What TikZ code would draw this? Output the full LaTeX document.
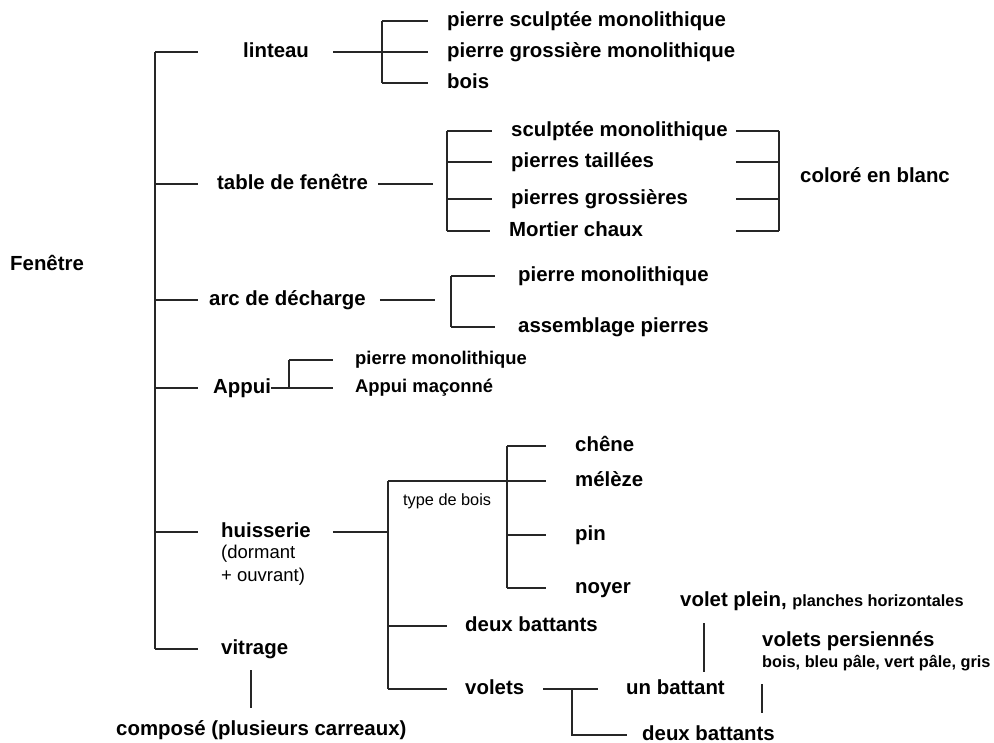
\documentclass[tikz,border=0pt]{standalone}
\usepackage{fontspec}
\setmainfont{Liberation Sans}
\usetikzlibrary{positioning}

\begin{document}
\begin{tikzpicture}[
  x=1pt, y=-1pt,
  lbl/.style={anchor=west, inner sep=0pt, text height=14.5pt, text depth=4pt,
    font=\fontsize{20.4}{24}\selectfont\bfseries},
  lblsm/.style={lbl, text height=13pt, text depth=3.6pt,
    font=\fontsize{18.4}{22}\selectfont\bfseries},
  lblxs/.style={lbl, text height=11.6pt, text depth=3.2pt,
    font=\fontsize{16.3}{19}\selectfont\bfseries},
  plain/.style={anchor=west, inner sep=0pt, align=left,
    font=\fontsize{18.5}{23}\selectfont},
  br/.style={line width=1.8pt, draw=black!85}
]
\useasboundingbox (0,0) rectangle (994,743);

% racine et premier niveau
\node[lbl] (fen)  at (10,265)  {Fenêtre};
\node[lbl] (lint) at (243,52)  {linteau};
\node[lbl] (tab)  at (217,184) {table de fenêtre};
\node[lbl] (arc)  at (209,300) {arc de décharge};
\node[lbl] (app)  at (213,388) {Appui};
\node[lbl] (hui)  at (221,532) {huisserie};
\node[plain, below=3pt of hui.south west, anchor=north west] (dorm) {(dormant\\+ ouvrant)};
\node[lbl] (vit)  at (221,649) {vitrage};
\node[lbl] (comp) at (116,730) {composé (plusieurs carreaux)};

\coordinate (trunk) at (155,0);
\draw[br] (trunk |- lint) -- (trunk |- vit);
\draw[br, shorten >=45pt] (trunk |- lint) -- (lint);
\draw[br, shorten >=19pt] (trunk |- tab) -- (tab);
\draw[br, shorten >=11pt] (trunk |- arc) -- (arc);
\draw[br, shorten >=15pt] (trunk |- app) -- (app);
\draw[br, shorten >=23pt] (trunk |- hui) -- (hui);
\draw[br, shorten >=23pt] (trunk |- vit) -- (vit);
\coordinate (g1) at (251,670);
\coordinate (g2) at (251,708);
\draw[br] (g1) -- (g2);

% linteau
\node[lbl] (ls) at (447,21) {pierre sculptée monolithique};
\node[lbl] (lg) at (447,52) {pierre grossière monolithique};
\node[lbl] (lb) at (447,83) {bois};
\coordinate (lj) at (382,0);
\draw[br, shorten <=24pt, shorten >=19pt] (lint) -- (lg);
\draw[br] (lj |- ls) -- (lj |- lb);
\foreach \n in {ls,lb} \draw[br, shorten >=19pt] (lj |- \n) -- (\n);

% table de fenetre
\node[lbl] (ts) at (511,131) {sculptée monolithique};
\node[lbl] (tt) at (511,162) {pierres taillées};
\node[lbl] (tg) at (511,199) {pierres grossières};
\node[lbl] (tm) at (509,231) {Mortier chaux};
\node[lbl] (blanc) at (800,177) {coloré en blanc};
\coordinate (tj) at (447,0);
\coordinate (tk) at (736,0);
\coordinate (tr) at (779,0);
\draw[br, shorten <=10pt, shorten >=14pt] (tab) -- (tab -| tj);
\draw[br] (tj |- ts) -- (tj |- tm);
\draw[br] (tr |- ts) -- (tr |- tm);
\foreach \n in {ts,tt,tg,tm} {
  \draw[br, shorten >=19pt] (tj |- \n) -- (\n);
  \draw[br] (tk |- \n) -- (tr |- \n);
}

% arc de decharge
\node[lbl] (am) at (518,276) {pierre monolithique};
\node[lbl] (aa) at (518,327) {assemblage pierres};
\coordinate (aj) at (451,0);
\draw[br, shorten <=14pt, shorten >=16pt] (arc) -- (arc -| aj);
\draw[br] (aj |- am) -- (aj |- aa);
\foreach \n in {am,aa} \draw[br, shorten >=23pt] (aj |- \n) -- (\n);

% appui
\node[lblsm] (pm) at (355,360) {pierre monolithique};
\node[lblsm] (pa) at (355,388) {Appui maçonné};
\coordinate (pj) at (289,0);
\draw[br, shorten >=22pt] (app) -- (pa);
\draw[br] (pj |- pm) -- (pj |- pa);
\draw[br, shorten >=22pt] (pj |- pm) -- (pm);

% huisserie
\node[plain, font=\fontsize{16.3}{19}\selectfont] (tb) at (403,501) {type de bois};
\node[lbl] (chene)  at (575,446) {chêne};
\node[lbl] (meleze) at (575,481) {mélèze};
\node[lbl] (pin)    at (575,535) {pin};
\node[lbl] (noyer)  at (575,588) {noyer};
\node[lbl] (db)     at (465,626) {deux battants};
\node[lbl] (vo)     at (465,689) {volets};
\coordinate (hj) at (388,0);
\coordinate (wj) at (507,0);
\draw[br, shorten <=22pt] (hui) -- (hui -| hj);
\draw[br] (hj |- meleze) -- (hj |- vo);
\draw[br, shorten >=29pt] (hj |- meleze) -- (meleze);
\draw[br] (wj |- chene) -- (wj |- noyer);
\foreach \n in {chene,pin,noyer} \draw[br, shorten >=29pt] (wj |- \n) -- (\n);
\foreach \n in {db,vo} \draw[br, shorten >=18pt] (hj |- \n) -- (\n);

% volets
\node[lbl] (ub)    at (626,689) {un battant};
\node[lbl] (db2)   at (642,735) {deux battants};
\node[lbl] (plein) at (680,601) {volet plein, {\fontsize{16.3}{19}\selectfont planches horizontales}};
\node[lbl] (pers)  at (762,641) {volets persiennés};
\node[lblxs] (persc) at (762,663) {bois, bleu pâle, vert pâle, gris};
\coordinate (vj) at (572,0);
\draw[br, shorten <=19pt, shorten >=28pt] (vo) -- (ub);
\draw[br, shorten >=15pt] (vj |- vo) |- (db2);
\coordinate (p1) at (704,623);
\coordinate (p2) at (704,672);
\coordinate (q1) at (762,684);
\coordinate (q2) at (762,713);
\draw[br] (p1) -- (p2);
\draw[br] (q1) -- (q2);
\end{tikzpicture}
\end{document}
